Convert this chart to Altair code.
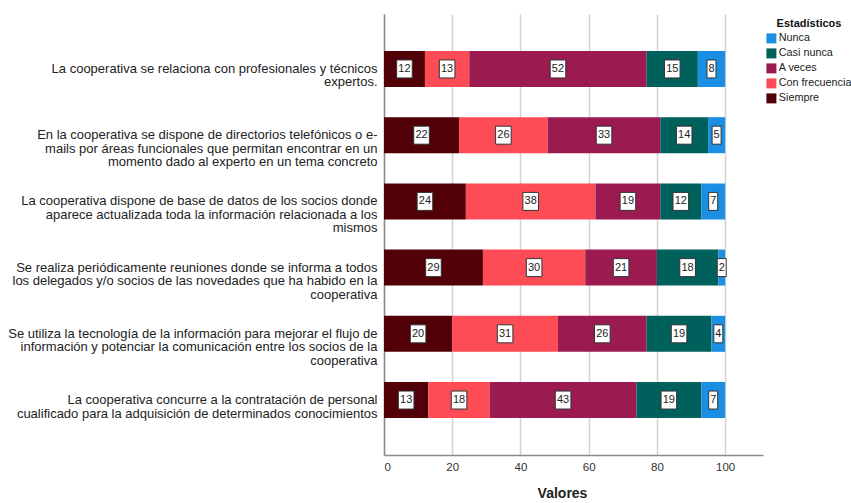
import altair as alt
import pandas as pd

# Survey statements ("|" marks a line break in the axis label)
preguntas = [
    "La cooperativa se relaciona con profesionales y técnicos|expertos.",
    "En la cooperativa se dispone de directorios telefónicos o e-|mails por áreas funcionales que permitan encontrar en un|momento dado al experto en un tema concreto",
    "La cooperativa dispone de base de datos de los socios donde|aparece actualizada toda la información relacionada a los|mismos",
    "Se realiza periódicamente reuniones donde se informa a todos|los delegados y/o socios de las novedades que ha habido en la|cooperativa",
    "Se utiliza la tecnología de la información para mejorar el flujo de|información y potenciar la comunicación entre los socios de la|cooperativa",
    "La cooperativa concurre a la contratación de personal|cualificado para la adquisición de determinados conocimientos",
]

# Answer categories in stacking order (left to right)
categorias = ["Siempre", "Con frecuencia", "A veces", "Casi nunca", "Nunca"]
siempre = [12, 22, 24, 29, 20, 13]
con_frecuencia = [13, 26, 38, 30, 31, 18]
a_veces = [52, 33, 19, 21, 26, 43]
casi_nunca = [15, 14, 12, 18, 19, 19]
nunca = [8, 5, 7, 2, 4, 7]
series = [siempre, con_frecuencia, a_veces, casi_nunca, nunca]

orden_leyenda = ["Nunca", "Casi nunca", "A veces", "Con frecuencia", "Siempre"]
colores_leyenda = ["#1a8fe3", "#00605b", "#9b1a50", "#fd4c55", "#520007"]

ticks_x = [0, 20, 40, 60, 80, 100]

filas = []
for i, p in enumerate(preguntas):
    for k, (cat, vals) in enumerate(zip(categorias, series)):
        filas.append({"pregunta": p, "categoria": cat, "orden": k, "valor": vals[i]})
df = pd.DataFrame(filas)

FONT = "Liberation Sans"

base = alt.Chart(df).transform_stack(
    stack="valor",
    groupby=["pregunta"],
    sort=[alt.SortField("orden")],
    as_=["x0", "x1"],
).transform_calculate(
    mid="(datum.x0 + datum.x1) / 2",
    caja="datum.valor < 10 ? 'uno' : 'dos'",
)

escala_x = alt.Scale(domain=[0, 111.1], nice=False, zero=True)

eje_y = alt.Axis(
    title=None,
    labelExpr="split(datum.label, '|')",
    labelFontSize=13,
    labelColor="#222222",
    labelPadding=7,
    labelLimit=420,
    labelLineHeight=13.5,
    ticks=False,
    grid=False,
    domainColor="#8a8a8a",
    domainWidth=1.5,
)
y_enc = alt.Y(
    "pregunta:N",
    sort=preguntas,
    scale=alt.Scale(paddingInner=0.456, paddingOuter=0.558),
    axis=eje_y,
)

eje_x = alt.Axis(
    values=ticks_x,
    title="Valores",
    titleFontSize=14,
    titleFontWeight="bold",
    titleColor="#222222",
    titleX=178,
    titleY=38,
    titleBaseline="middle",
    labelFontSize=11.5,
    labelColor="#333333",
    labelPadding=6,
    ticks=False,
    grid=True,
    gridColor="#d2d2d2",
    gridWidth=1.5,
    domainColor="#8a8a8a",
    domainWidth=1.5,
)

barras = base.mark_bar().encode(
    x=alt.X("x0:Q", scale=escala_x, axis=eje_x),
    x2="x1:Q",
    y=y_enc,
    color=alt.Color(
        "categoria:N",
        scale=alt.Scale(domain=orden_leyenda, range=colores_leyenda),
        legend=alt.Legend(
            title="Estadísticos",
            orient="none",
            legendX=382,
            legendY=4,
            titleFontSize=11,
            titleFontWeight="bold",
            titleColor="#111111",
            titleAnchor="middle",
            titlePadding=4,
            labelFontSize=10.8,
            labelColor="#222222",
            labelOffset=2,
            labelLimit=80,
            symbolType="square",
            symbolSize=100,
            symbolStrokeWidth=0,
            rowPadding=3,
            padding=0,
        ),
    ),
    order=alt.Order("orden:Q"),
)

cajas = base.mark_point(
    filled=True, fill="white", stroke="#333333", strokeWidth=1, opacity=1, size=400
).encode(
    x=alt.X("mid:Q", scale=escala_x, axis=eje_x),
    y=y_enc,
    shape=alt.Shape(
        "caja:N",
        scale=alt.Scale(
            domain=["uno", "dos"],
            range=["M-0.45,-0.9H0.45V0.9H-0.45Z", "M-0.78,-0.9H0.78V0.9H-0.78Z"],
        ),
        legend=None,
    ),
)

textos = base.mark_text(fontSize=11, color="#222222", baseline="middle").encode(
    x=alt.X("mid:Q", scale=escala_x, axis=eje_x),
    y=y_enc,
    text="valor:Q",
)

chart = (
    alt.layer(barras, cajas, textos)
    .properties(
        width=379,
        height=441,
        autosize=alt.AutoSizeParams(type="none"),
        padding={"left": 384, "top": 14, "right": 88, "bottom": 48},
    )
    .configure(font=FONT)
    .configure_view(stroke=None)
)

chart.save("out.html", embed_options={"renderer": "svg", "actions": False})
